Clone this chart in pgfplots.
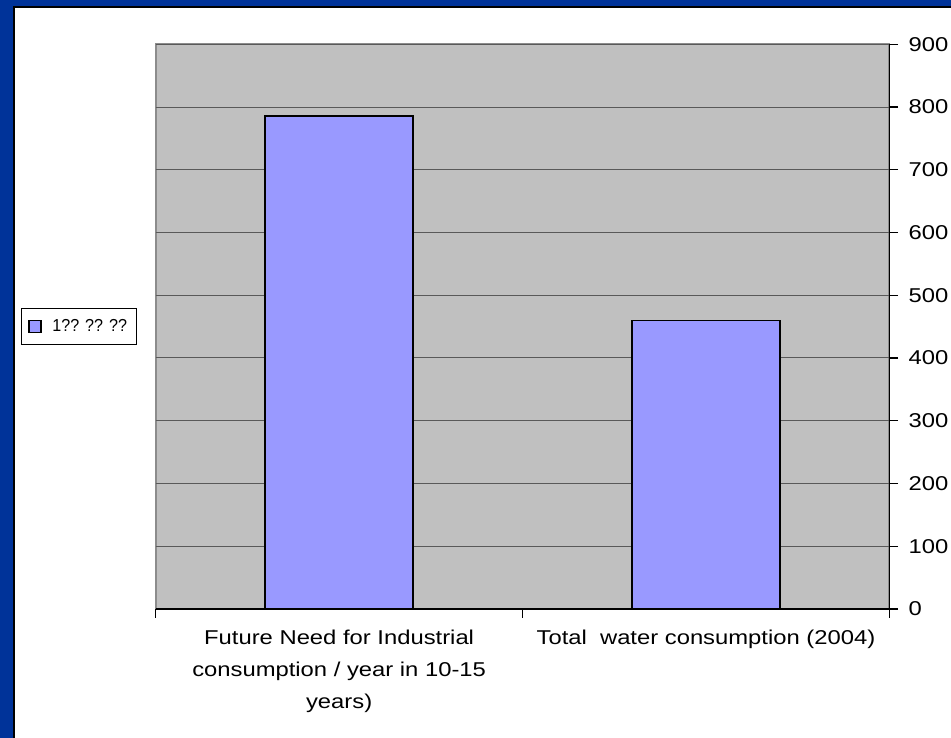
\documentclass[border=0pt]{standalone}
\usepackage{fontspec}
\setmainfont{Liberation Sans}[FakeStretch=1.19]
\newfontfamily\legfont{Liberation Sans}[FakeStretch=0.93]
\usepackage{pgfplots}
\pgfplotsset{compat=1.18}
\definecolor{frameblue}{HTML}{003399}
\definecolor{wallgray}{HTML}{C0C0C0}
\definecolor{barblue}{HTML}{9999FF}
\definecolor{gridgray}{HTML}{595959}
\definecolor{edgegray}{HTML}{8C8C8C}

\begin{document}
\begin{tikzpicture}
% slide frame (1px = 0.75pt)
\useasboundingbox (0pt,0pt) rectangle (713.25pt,-553.5pt);
\fill[white] (0pt,0pt) rectangle (713.25pt,-553.5pt);
\fill[frameblue] (0pt,0pt) rectangle (713.25pt,-4.5pt);
\fill[frameblue] (0pt,0pt) rectangle (9.75pt,-553.5pt);
\fill[black] (9.75pt,-4.5pt) rectangle (713.25pt,-6pt);
\fill[black] (9.75pt,-4.5pt) rectangle (11.25pt,-553.5pt);

\begin{axis}[
  at={(116.8pt,-33.2pt)}, anchor=north west,
  scale only axis, width=550.2pt, height=423.5pt,
  xmin=0.5, xmax=2.5, ymin=0, ymax=900,
  axis x line*=bottom, axis y line*=right,
  axis line style={black, line width=1.1pt, -},
  axis background/.style={fill=wallgray, draw=edgegray, line width=1.5pt},
  ytick={0,100,...,900},
  ymajorgrids, grid style={gridgray, line width=0.75pt},
  tick align=outside, major tick length=6.5pt,
  tick style={black, line width=0.9pt},
  xtick={0.5,1.5,2.5}, xticklabels={},
  extra x ticks={1,2},
  extra x tick labels={Future Need for Industrial\\consumption / year in 10-15\\years), Total\ \ water consumption (2004)},
  extra x tick style={major tick length=0pt, grid=none},
  xticklabel style={align=center, font=\fontsize{15pt}{24pt}\selectfont, yshift=-12pt},
  yticklabel style={font=\fontsize{15pt}{18pt}\selectfont, xshift=4.5pt},
  /pgf/number format/assume math mode=true,
  legend style={at={(-0.1836,0.5)}, anchor=west, draw=black, line width=0.75pt,
    font=\legfont\fontsize{13pt}{15pt}\selectfont, inner xsep=5pt, inner ysep=6.5pt,
    /tikz/every odd column/.append style={column sep=6pt}},
  legend image code/.code={\draw[#1] (0pt,-4.5pt) rectangle (9pt,4.5pt);},
]
\addplot[ybar, bar width=0.404, fill=barblue, draw=black, line width=1.1pt]
  coordinates {(1,786) (2,460)};
\addlegendentry{1?? ?? ??}
\end{axis}
\end{tikzpicture}
\end{document}
